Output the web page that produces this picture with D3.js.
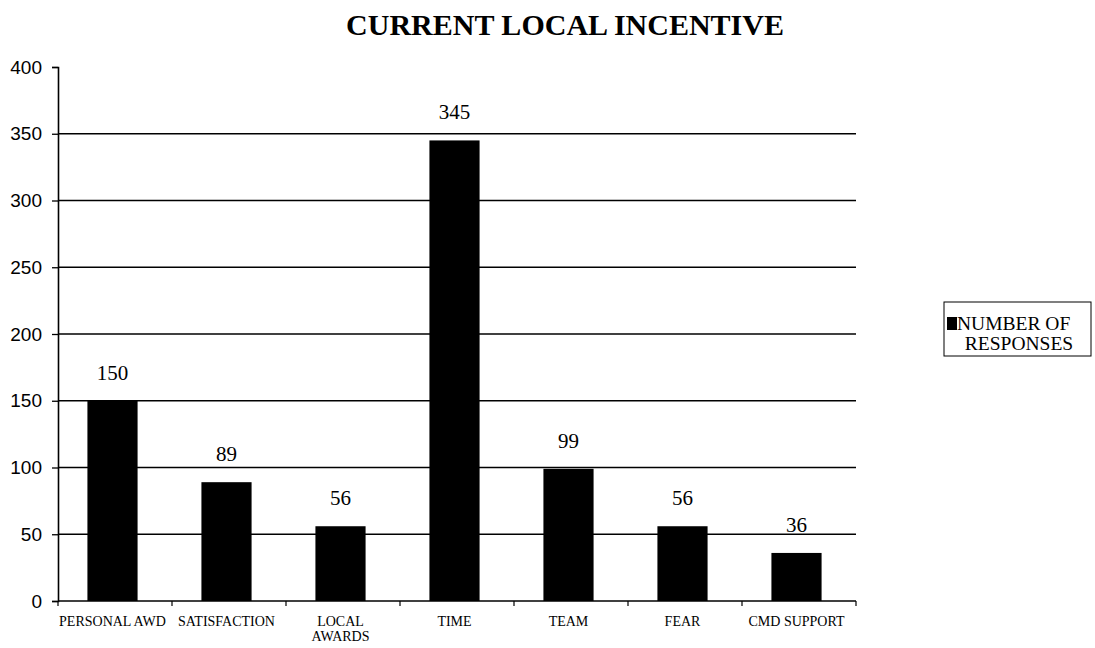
<!DOCTYPE html>
<html><head><meta charset="utf-8">
<script src="https://cdn.jsdelivr.net/npm/d3@7"></script>
<style>body{margin:0;background:#fff}svg{display:block}</style>
</head><body><svg id="c" width="1095" height="648"></svg>
<script>
const categories = [["PERSONAL AWD"],["SATISFACTION"],["LOCAL","AWARDS"],["TIME"],["TEAM"],["FEAR"],["CMD SUPPORT"]];
const values = [150, 89, 56, 345, 99, 56, 36];
const yTicks = [0, 50, 100, 150, 200, 250, 300, 350, 400];
const title = "CURRENT LOCAL INCENTIVE";
const seriesName = ["NUMBER OF", "RESPONSES"];

const SERIF = "'Liberation Serif', 'Times New Roman', serif";
const SANS = "'Liberation Sans', Arial, sans-serif";
const svg = d3.select("#c");
const L = 58, R = 856, T = 67, B = 601;
const x = d3.scaleBand().domain(d3.range(categories.length)).range([L, R]).paddingInner(0.56).paddingOuter(0.28);
const xb = d3.scaleBand().domain(d3.range(categories.length)).range([L, R]);
const y = d3.scaleLinear().domain([0, 400]).range([B, T]);
const off = -2.5;

svg.append("text").attr("x", 565).attr("y", 35).attr("text-anchor", "middle")
  .attr("font-family", SERIF).attr("font-size", 30).attr("font-weight", "bold").text(title);

// gridlines
svg.append("g").selectAll("line").data(yTicks.filter(d => d > 0 && d < 400)).join("line")
  .attr("x1", L).attr("x2", R).attr("y1", d => y(d)).attr("y2", d => y(d))
  .attr("stroke", "#000").attr("stroke-width", 1.3);

// y axis
const ya = svg.append("g").attr("transform", `translate(${L},0)`)
  .call(d3.axisLeft(y).tickValues(yTicks).tickSize(6).tickPadding(10));
ya.attr("font-family", SANS).attr("font-size", 19);
ya.select(".domain").attr("stroke", "#000").attr("stroke-width", 1.6);
ya.selectAll(".tick line").attr("stroke", "#000").attr("stroke-width", 1.3);
ya.selectAll(".tick text").attr("fill", "#000");

// x axis baseline
svg.append("line").attr("x1", L).attr("x2", R).attr("y1", B).attr("y2", B).attr("stroke", "#000").attr("stroke-width", 1.6);
svg.append("g").selectAll("line").data(d3.range(categories.length + 1)).join("line")
  .attr("x1", d => d < categories.length ? xb(d) : R).attr("x2", d => d < categories.length ? xb(d) : R)
  .attr("y1", B).attr("y2", B + 5).attr("stroke", "#000").attr("stroke-width", 1.2);

// bars
svg.append("g").selectAll("rect").data(values).join("rect")
  .attr("x", (d, i) => x(i) + off).attr("width", x.bandwidth())
  .attr("y", d => y(d)).attr("height", d => B - y(d)).attr("fill", "#000");

// value labels
svg.append("g").selectAll("text").data(values).join("text")
  .attr("x", (d, i) => x(i) + off + x.bandwidth() / 2).attr("y", d => y(d) - 21)
  .attr("text-anchor", "middle").attr("font-family", SERIF).attr("font-size", 21).text(d => d);

// category labels
const cl = svg.append("g").selectAll("text").data(categories).join("text")
  .attr("x", (d, i) => x(i) + off + x.bandwidth() / 2).attr("y", 626)
  .attr("text-anchor", "middle").attr("font-family", SERIF).attr("font-size", 14);
cl.selectAll("tspan").data(d => d).join("tspan")
  .attr("x", function() { return d3.select(this.parentNode).attr("x"); })
  .attr("dy", (d, i) => i === 0 ? 0 : 15).text(d => d);

// legend
const lg = svg.append("g");
lg.append("rect").attr("x", 944).attr("y", 302).attr("width", 147).attr("height", 54)
  .attr("fill", "#fff").attr("stroke", "#000").attr("stroke-width", 1);
lg.append("rect").attr("x", 947).attr("y", 317).attr("width", 10).attr("height", 13).attr("fill", "#000");
lg.append("text").attr("x", 957).attr("y", 330).attr("font-family", SERIF).attr("font-size", 19.5).text(seriesName[0]);
lg.append("text").attr("x", 1019).attr("y", 350).attr("text-anchor", "middle").attr("font-family", SERIF).attr("font-size", 19.5).text(seriesName[1]);
</script></body></html>
